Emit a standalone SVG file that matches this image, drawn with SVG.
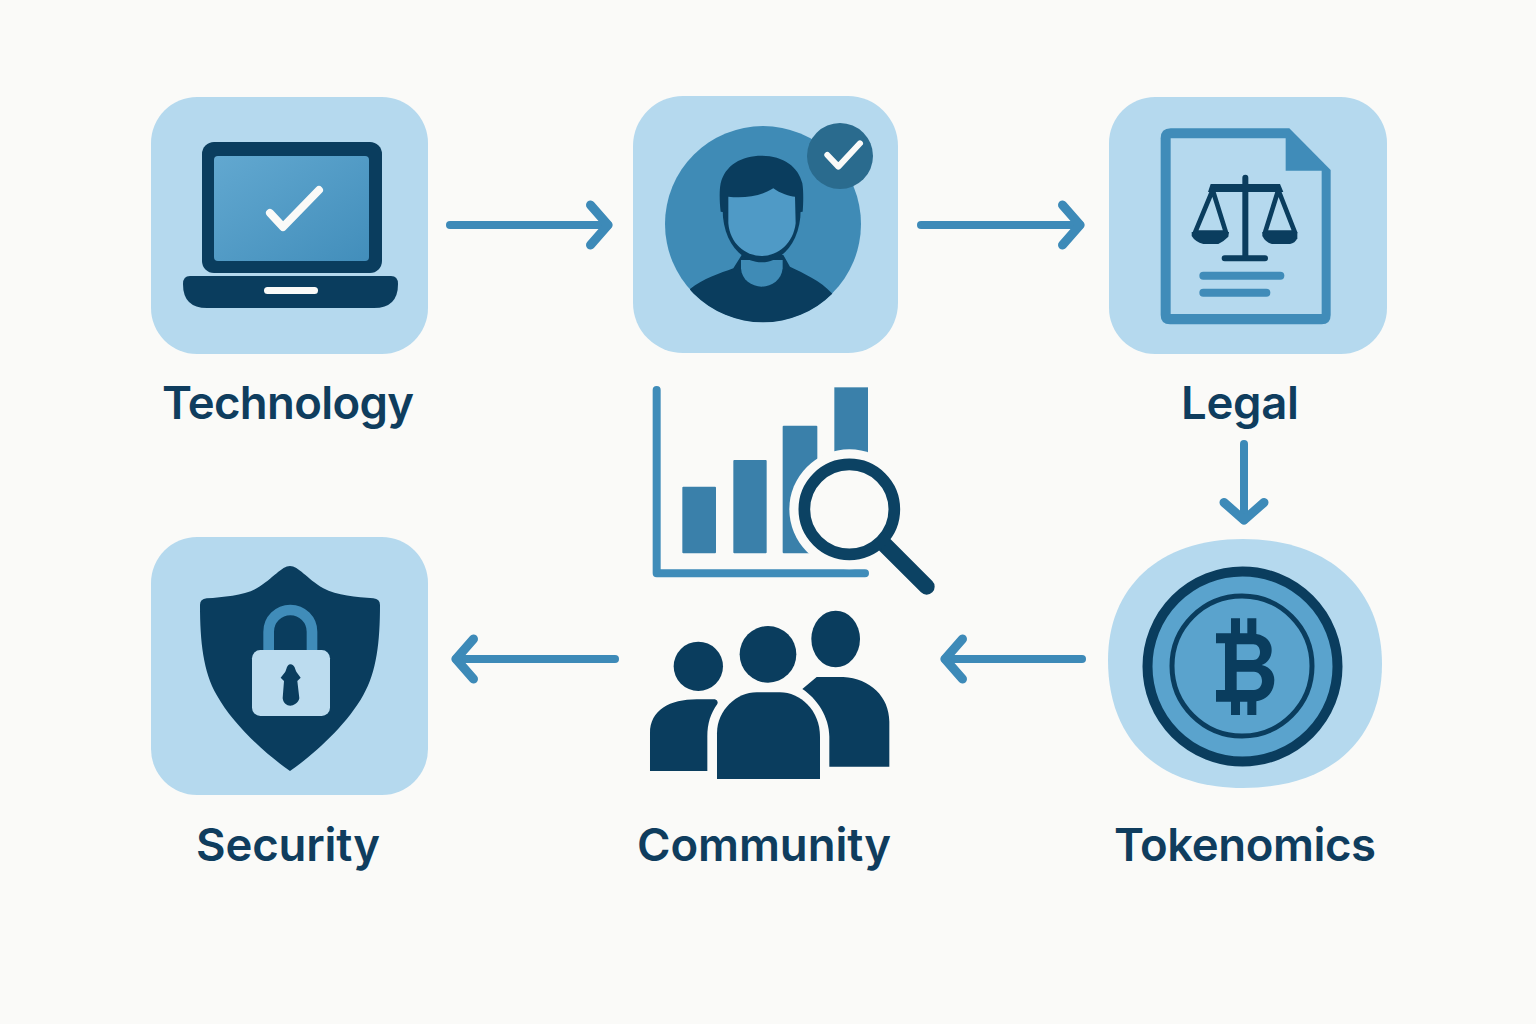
<svg xmlns="http://www.w3.org/2000/svg" width="1536" height="1024" viewBox="0 0 1536 1024">
<style>
.tile{fill:#b5d9ee}
.dark{fill:#0a3d5e}
.mid{fill:#408cb9}
.lab{font-family:"Inter","Liberation Sans",sans-serif;font-size:45.5px;font-weight:600;fill:#0f3d5e;text-anchor:middle}
.conn{fill:none;stroke:#3d8ab8;stroke-width:8;stroke-linecap:round;marker-end:url(#head)}
</style>
<defs>
<marker id="head" markerUnits="userSpaceOnUse" viewBox="-30 -30 60 60" refX="0" refY="0" markerWidth="60" markerHeight="60" orient="auto">
<path d="M-17.500 -20L0 0L-17.500 20" fill="none" stroke="#3d8ab8" stroke-width="9" stroke-linecap="round" stroke-linejoin="round"/>
</marker>
<linearGradient id="screen" x1="0" y1="0" x2="1" y2="1"><stop offset="0" stop-color="#62a8d0"/><stop offset="1" stop-color="#428ebb"/></linearGradient>
<clipPath id="pclip"><circle cx="399" cy="402" r="295"/></clipPath>
</defs>
<rect width="1536" height="1024" fill="#fafaf8"/>

<g id="connectors">
<path class="conn" d="M450 225H608"/>
<path class="conn" d="M921 225H1080"/>
<path class="conn" d="M1244 444V520"/>
<path class="conn" d="M1082 659H945"/>
<path class="conn" d="M615 659H456"/>
</g>

<g id="technology">
<rect class="tile" x="151" y="97" width="277" height="257" rx="46"/>
<rect class="dark" x="202" y="142" width="180" height="131" rx="12"/>
<rect x="214" y="156" width="155" height="105" rx="4" fill="url(#screen)"/>
<path d="M270 213L283 227L319 190" fill="none" stroke="#fafaf8" stroke-width="8" stroke-linecap="round" stroke-linejoin="round"/>
<path class="dark" d="M190 276H391Q398 276 398 284Q398 308 374 308H207Q183 308 183 284Q183 276 190 276Z"/>
<rect x="264" y="287" width="54" height="7" rx="3.500" fill="#fafaf8"/>
<text class="lab" x="288" y="419" textLength="252">Technology</text>
</g>

<g id="identity">
<rect class="tile" x="633" y="96" width="265" height="257" rx="50"/>
<g transform="translate(630 90) scale(.33333)">
<circle cx="399" cy="402" r="294" fill="#3f8bb6"/>
<g clip-path="url(#pclip)">
<path class="dark" d="M180 597C220 565 270 550 310 535L335 495H460L480 530C520 550 570 570 608 612L600 720H200Z"/>
<path fill="#3f8bb6" d="M333 510H458V535C455 570 425 590 395 590C365 590 335 570 333 535Z"/>
</g>
<path class="dark" d="M278 360C278 450 330 517 395 517C460 517 512 450 512 360V300H278Z"/>
<path class="dark" d="M272 365C268 330 268 300 272 280C285 225 335 197 395 197C460 197 505 230 517 280C521 305 520 340 518 365L495 368V330H295V368Z"/>
<path fill="#4f9ac6" d="M295 320C340 325 390 320 430 295C450 310 480 320 495 320L497 400C490 460 445 498 395 498C345 498 300 460 295 400Z"/>
<circle cx="630" cy="198" r="99" fill="#2a6b8e"/>
<path d="M592 195L625 230L690 160" fill="none" stroke="#fafaf8" stroke-width="18" stroke-linejoin="round" stroke-linecap="round"/>
</g>
</g>

<g id="legal">
<rect class="tile" x="1109" y="97" width="278" height="257" rx="46"/>
<g transform="translate(1140 110) scale(.33333)">
<path class="mid" d="M62 85Q62 55 92 55H448L572 180V615Q572 643 545 643H90Q62 643 62 615Z"/>
<path class="tile" d="M92 85H437V182H545V612H92Z"/>
<path d="M316 203V445M254 445H375" fill="none" stroke="#0a3d5e" stroke-width="18" stroke-linecap="round"/>
<path class="dark" d="M212 222H420L430 246H204Z"/>
<path d="M218 240L165 368H258ZM415 240L375 368H465Z" fill="none" stroke="#0a3d5e" stroke-width="14" stroke-linejoin="round"/>
<path class="dark" d="M155 366H267L265 380Q250 395 235 402H190Q165 395 155 378Z"/>
<path class="dark" d="M367 366H472V385Q465 400 450 402H395Q375 395 367 378Z"/>
<rect class="mid" x="178" y="485" width="255" height="24" rx="12"/>
<rect class="mid" x="178" y="536" width="213" height="24" rx="12"/>
</g>
<text class="lab" x="1240" y="419" textLength="118">Legal</text>
</g>

<g id="analytics" transform="translate(640 380) scale(.33333)">
<path d="M50 30V580H675" fill="none" stroke="#3f8cb9" stroke-width="24" stroke-linecap="round" stroke-linejoin="round"/>
<g fill="#3a80aa">
<rect x="127" y="320" width="101" height="200" rx="3"/>
<rect x="280" y="240" width="100" height="280" rx="3"/>
<rect x="428" y="137" width="104" height="383" rx="3"/>
<rect x="583" y="22" width="101" height="220"/>
</g>
<circle cx="628" cy="388" r="180" fill="#fafaf8"/>
<path d="M735 495L860 620" stroke="#0c4263" stroke-width="48" stroke-linecap="round" fill="none"/>
<circle cx="628" cy="388" r="135" fill="#fafaf8" stroke="#0c4263" stroke-width="35"/>
</g>

<g id="tokenomics">
<path class="tile" d="M1243 539C1328 539 1382 588 1382 664C1382 742 1328 788 1243 788C1158 788 1108 740 1108 660C1108 588 1158 539 1243 539Z"/>
<circle cx="1242.500" cy="666.500" r="95" fill="#5aa3cd" stroke="#0a3d5e" stroke-width="10"/>
<circle cx="1242" cy="666" r="70" fill="#5aa3cd" stroke="#0a3d5e" stroke-width="5"/>
<g transform="translate(1130 555) scale(.33333)">
<path class="dark" fill-rule="evenodd" d="M303 190H330V235H352V190H379V237C410 242 425 262 425 285C425 310 410 325 395 330C420 335 433 355 433 375C433 410 410 435 379 439V480H352V440H330V480H303V440H258V405H285V265H258V235H303ZM320 268V315H370C382 315 390 305 390 291C390 278 382 268 370 268ZM320 350V405H372C386 405 396 393 396 378C396 362 386 350 372 350Z"/>
</g>
<text class="lab" x="1245" y="861" textLength="262">Tokenomics</text>
</g>

<g id="community">
<g class="dark" transform="translate(640 600) scale(.33333)">
<circle cx="175" cy="199" r="74"/>
<circle cx="384" cy="163" r="85"/>
<ellipse cx="587" cy="117" rx="73" ry="85"/>
<path d="M30 513V400C30 330 90 298 170 298H225Q236 302 232 312C212 340 202 370 202 410V513Z"/>
<path d="M231 537V400C231 330 290 277 350 277H420C480 277 540 330 540 410V537Z"/>
<path d="M487 267L530 231H610C690 235 748 290 748 365V500H568V410C568 350 530 295 487 267Z"/>
</g>
<text class="lab" x="764" y="861" textLength="254">Community</text>
</g>

<g id="security">
<rect class="tile" x="151" y="537" width="277" height="258" rx="46"/>
<g transform="translate(180 555) scale(.33333)">
<path class="dark" d="M330 33C355 33 380 70 430 100C470 122 530 126 580 130Q600 132 600 150C600 260 590 350 550 420C500 510 400 600 330 648C260 600 160 510 110 420C70 350 60 260 60 150Q60 132 80 130C130 126 190 122 230 100C280 70 305 33 330 33Z"/>
<path d="M266 295V230A65 65 0 0 1 396 230V295" fill="none" stroke="#408cb9" stroke-width="32"/>
<rect x="216" y="285" width="234" height="198" rx="25" fill="#bcdcef"/>
<path class="dark" d="M331 328C345 328 345 345 350 352L362 368L352 378L358 430C355 445 340 452 331 452C320 452 310 445 308 430L312 378L302 368L315 352C320 345 320 328 331 328Z"/>
</g>
<text class="lab" x="288" y="861" textLength="184">Security</text>
</g>
</svg>
